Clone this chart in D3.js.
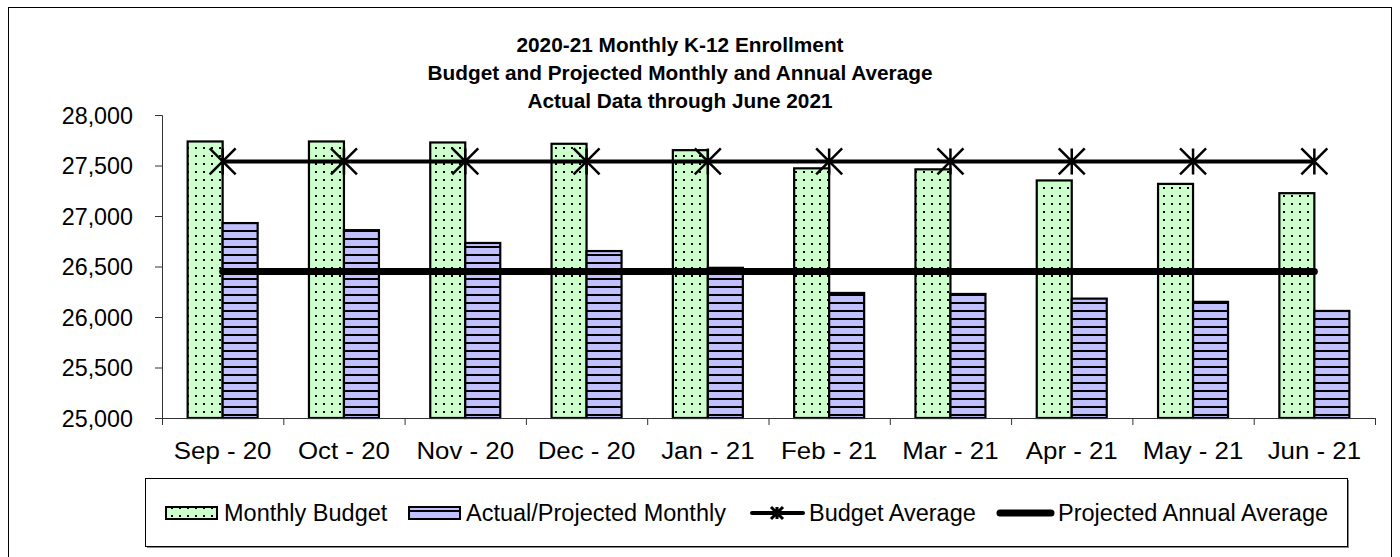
<!DOCTYPE html>
<html><head><meta charset="utf-8">
<script src="https://cdn.jsdelivr.net/npm/d3@7"></script>
<style>body{margin:0;background:#fff}svg{display:block;font-family:"Liberation Sans",Arial,sans-serif}</style>
</head><body>
<svg id="c" width="1400" height="557"></svg>
<script>
const months = ["Sep - 20","Oct - 20","Nov - 20","Dec - 20","Jan - 21","Feb - 21","Mar - 21","Apr - 21","May - 21","Jun - 21"];
const monthlyBudget = [27738, 27738, 27728, 27715, 27652, 27472, 27462, 27352, 27318, 27226];
const actualProjected = [26930, 26860, 26733, 26653, 26487, 26238, 26228, 26182, 26150, 26060];
const budgetAverage = [27540, 27540, 27540, 27540, 27540, 27540, 27540, 27540, 27540, 27540];
const projectedAnnualAverage = [26450, 26450, 26450, 26450, 26450, 26450, 26450, 26450, 26450, 26450];
const yTicks = [25000, 25500, 26000, 26500, 27000, 27500, 28000];
const titleLines = ["2020-21 Monthly K-12 Enrollment","Budget and Projected Monthly and Annual Average","Actual Data through June 2021"];
const legendLabels = ["Monthly Budget","Actual/Projected Monthly","Budget Average","Projected Annual Average"];

const svg = d3.select("#c");
const defs = svg.append("defs");
const pg = defs.append("pattern").attr("id","dots").attr("patternUnits","userSpaceOnUse").attr("width",8).attr("height",8);
pg.append("rect").attr("width",8).attr("height",8).attr("fill","#ccffcc");
pg.append("rect").attr("x",3).attr("y",3).attr("width",2).attr("height",2).attr("fill","#000");
const pb = defs.append("pattern").attr("id","stripes").attr("patternUnits","userSpaceOnUse").attr("width",8).attr("height",8);
pb.append("rect").attr("width",8).attr("height",8).attr("fill","#c0c0ff");
pb.append("rect").attr("x",0).attr("y",6).attr("width",8).attr("height",2).attr("fill","#000");

svg.append("rect").attr("x",8.5).attr("y",7.5).attr("width",1383).attr("height",600).attr("fill","none").attr("stroke","#000").attr("stroke-width",1);

const x = d3.scaleBand().domain(months).range([162, 1375]).padding(0);
const y = d3.scaleLinear().domain([25000, 28000]).range([418, 115]);
const bw = 35, off = (x.bandwidth() - 2*bw)/2;

svg.append("g").selectAll("text").data(titleLines).join("text")
  .attr("x",680).attr("y",(d,i)=>52 + i*28).attr("text-anchor","middle")
  .attr("font-weight","bold").attr("font-size",20.8).text(d=>d);

svg.append("g").selectAll("rect").data(monthlyBudget).join("rect")
  .attr("x",(d,i)=>x(months[i])+off).attr("y",d=>y(d)).attr("width",bw).attr("height",d=>y(25000)-y(d))
  .attr("fill","url(#dots)").attr("stroke","#000").attr("stroke-width",2.2);
svg.append("g").selectAll("rect").data(actualProjected).join("rect")
  .attr("x",(d,i)=>x(months[i])+off+bw).attr("y",d=>y(d)).attr("width",bw).attr("height",d=>y(25000)-y(d))
  .attr("fill","url(#stripes)").attr("stroke","#000").attr("stroke-width",2.2);

const yAxis = svg.append("g").attr("transform","translate(162,0)")
  .call(d3.axisLeft(y).tickValues(yTicks).tickSize(7).tickFormat(d3.format(",")));
yAxis.select(".domain").attr("stroke","#333");
yAxis.selectAll(".tick line").attr("stroke","#333");
yAxis.selectAll("text").attr("font-size",23.3).attr("font-family","Liberation Sans, Arial").attr("fill","#000").attr("x",-29).attr("dy","0.36em");

const xb = d3.scaleLinear().domain([0, months.length]).range([162, 1375]);
const xAxis = svg.append("g").attr("transform","translate(0,418)")
  .call(d3.axisBottom(xb).tickValues(d3.range(months.length+1)).tickSize(7).tickFormat(""));
xAxis.select(".domain").attr("stroke","#333");
xAxis.selectAll(".tick line").attr("stroke","#333");
svg.append("g").selectAll("text").data(months).join("text")
  .attr("x",d=>x(d)+x.bandwidth()/2).attr("y",459).attr("text-anchor","middle")
  .attr("font-size",23.5).attr("transform",d=>{const c=x(d)+x.bandwidth()/2;return `translate(${c},0) scale(1.1,1) translate(${-c},0)`;}).text(d=>d);

const cx = d => x(d) + x.bandwidth()/2;
const lineB = d3.line().x((d,i)=>cx(months[i])).y(d=>y(d));
svg.append("path").datum(projectedAnnualAverage).attr("d",lineB).attr("fill","none")
  .attr("stroke","#000").attr("stroke-width",7).attr("stroke-linecap","round");
svg.append("path").datum(budgetAverage).attr("d",lineB).attr("fill","none")
  .attr("stroke","#000").attr("stroke-width",4);
function star(g, r, sw){
  g.append("path").attr("d",`M${-r},${-r}L${r},${r}M${-r},${r}L${r},${-r}M0,${-r}L0,${r}`)
   .attr("stroke","#000").attr("stroke-width",sw).attr("fill","none");
}
budgetAverage.forEach((d,i)=>{
  const g = svg.append("g").attr("transform",`translate(${cx(months[i])},${y(d)})`);
  star(g, 13, 2.5);
});

const lg = svg.append("g");
lg.append("rect").attr("x",147).attr("y",480).attr("width",1202).attr("height",68).attr("fill","#888");
lg.append("rect").attr("x",145.5).attr("y",478.5).attr("width",1202).attr("height",68).attr("fill","#fff").attr("stroke","#000");
const ly = 513;
lg.append("rect").attr("x",166).attr("y",ly-6).attr("width",51).attr("height",12).attr("fill","url(#dots)").attr("stroke","#000").attr("stroke-width",2);
lg.append("rect").attr("x",409).attr("y",ly-6).attr("width",51).attr("height",12).attr("fill","url(#stripes)").attr("stroke","#000").attr("stroke-width",2);
lg.append("line").attr("x1",752).attr("x2",803).attr("y1",ly).attr("y2",ly).attr("stroke","#000").attr("stroke-width",4).attr("stroke-linecap","round");
star(lg.append("g").attr("transform",`translate(777,${ly})`), 6, 3);
lg.append("line").attr("x1",1000).attr("x2",1051).attr("y1",ly).attr("y2",ly).attr("stroke","#000").attr("stroke-width",7).attr("stroke-linecap","round");
const lx = [224, 466, 809, 1058];
lg.selectAll("text.l").data(legendLabels).join("text").attr("class","l")
  .attr("x",(d,i)=>lx[i]).attr("y",ly+8).attr("font-size",23.5).text(d=>d);
</script>
</body></html>
